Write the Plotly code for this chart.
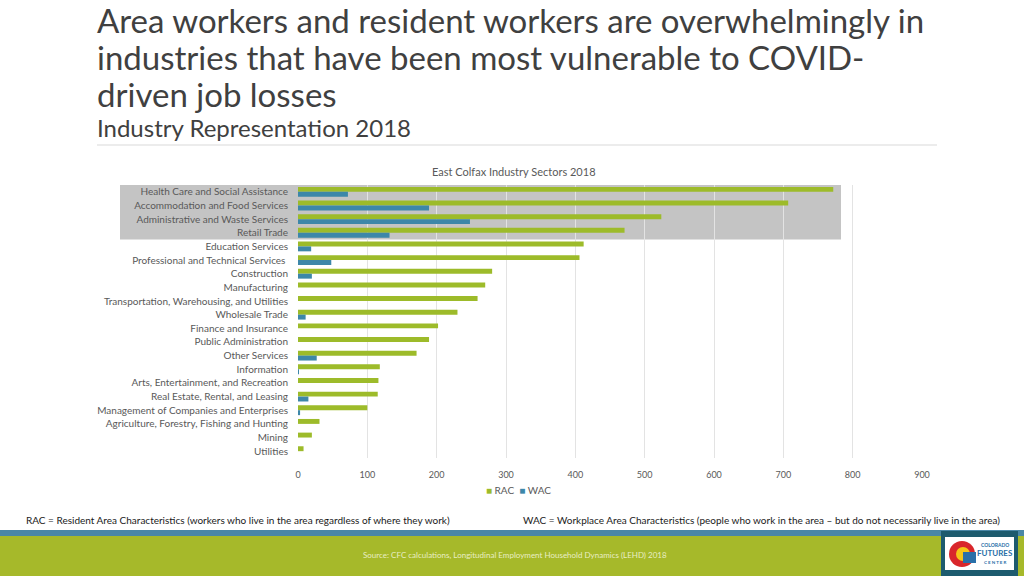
import plotly.graph_objects as go

categories = [
    "Health Care and Social Assistance",
    "Accommodation and Food Services",
    "Administrative and Waste Services",
    "Retail Trade",
    "Education Services",
    "Professional and Technical Services ",
    "Construction",
    "Manufacturing",
    "Transportation, Warehousing, and Utilities",
    "Wholesale Trade",
    "Finance and Insurance",
    "Public Administration",
    "Other Services",
    "Information",
    "Arts, Entertainment, and Recreation",
    "Real Estate, Rental, and Leasing",
    "Management of Companies and Enterprises",
    "Agriculture, Forestry, Fishing and Hunting",
    "Mining",
    "Utilities",
]
rac = [772, 707, 524, 471, 412, 406, 280, 270, 259, 230, 202, 189, 171, 118, 116, 115, 100, 31, 20, 8]
wac = [72, 189, 248, 132, 19, 48, 20, 0, 0, 11, 0, 0, 27, 1, 0, 15, 3, 0, 0, 0]
x_ticks = [0, 100, 200, 300, 400, 500, 600, 700, 800, 900]
series_names = ["RAC", "WAC"]

GREEN = "#9dbb2a"
BLUE = "#3d87a9"
GREY = "#595959"
FONT = "Lato"

fig = go.Figure()
fig.add_trace(go.Bar(y=categories, x=rac, name=series_names[0], orientation="h",
                     marker=dict(color=GREEN, line=dict(width=0))))
fig.add_trace(go.Bar(y=categories, x=wac, name=series_names[1], orientation="h",
                     marker=dict(color=BLUE, line=dict(width=0))))

L, R, T, B = 298, 922, 185, 458
W, H = 1024, 576

fig.update_layout(
    width=W, height=H,
    margin=dict(l=L, r=W - R, t=T, b=H - B, pad=0),
    paper_bgcolor="white", plot_bgcolor="rgba(0,0,0,0)",
    barmode="group", bargap=0.28, bargroupgap=0,
    font=dict(family=FONT, color=GREY, size=10),
    showlegend=False,
    xaxis=dict(range=[0, 900], tickvals=x_ticks, showgrid=True, gridcolor="#e3e3e3",
               gridwidth=1, zeroline=False, showline=False, ticks="",
               tickfont=dict(size=9, color=GREY), ticklabelstandoff=10),
    yaxis=dict(autorange="reversed", showgrid=False, zeroline=False, showline=False,
               ticks="", tickfont=dict(size=10, color=GREY), ticklabelstandoff=9),
)

def px2paper_x(px):
    return (px - L) / (R - L)

def px2paper_y(py):
    return (B - py) / (B - T)

shapes = []
# highlight box
shapes.append(dict(type="rect", xref="paper", yref="y", x0=px2paper_x(120), x1=px2paper_x(841),
                   y0=-0.5, y1=3.5, fillcolor="#c4c4c4", line=dict(width=0), layer="below"))
# separator under subtitle
shapes.append(dict(type="line", xref="paper", yref="paper", x0=px2paper_x(97), x1=px2paper_x(937),
                   y0=px2paper_y(145), y1=px2paper_y(145), line=dict(color="#d9d9d9", width=1)))
# footer stripes
shapes.append(dict(type="rect", xref="paper", yref="paper", x0=px2paper_x(0), x1=px2paper_x(W),
                   y0=px2paper_y(536), y1=px2paper_y(530), fillcolor="#4a87a6", line=dict(width=0)))
shapes.append(dict(type="rect", xref="paper", yref="paper", x0=px2paper_x(0), x1=px2paper_x(W),
                   y0=px2paper_y(H), y1=px2paper_y(536), fillcolor="#a6b92a", line=dict(width=0)))
# logo
shapes.append(dict(type="rect", xref="paper", yref="paper", x0=px2paper_x(941), x1=px2paper_x(1018),
                   y0=px2paper_y(576), y1=px2paper_y(531), fillcolor="#1d5b6e", line=dict(width=0)))
shapes.append(dict(type="rect", xref="paper", yref="paper", x0=px2paper_x(945), x1=px2paper_x(1014),
                   y0=px2paper_y(570), y1=px2paper_y(537), fillcolor="white", line=dict(width=0)))
shapes.append(dict(type="circle", xref="paper", yref="paper", x0=px2paper_x(949), x1=px2paper_x(975),
                   y0=px2paper_y(567), y1=px2paper_y(541), fillcolor="#d9262b", line=dict(width=0)))
shapes.append(dict(type="circle", xref="paper", yref="paper", x0=px2paper_x(956), x1=px2paper_x(970),
                   y0=px2paper_y(561), y1=px2paper_y(547), fillcolor="#f5c518", line=dict(width=0)))
shapes.append(dict(type="rect", xref="paper", yref="paper", x0=px2paper_x(963), x1=px2paper_x(976),
                   y0=px2paper_y(563), y1=px2paper_y(552), fillcolor="#2a6fa8", line=dict(width=0)))
fig.update_layout(shapes=shapes)

ann = []
def text(x, y, s, size, color, anchor="left", family=FONT, yanchor="middle"):
    ann.append(dict(xref="paper", yref="paper", x=px2paper_x(x), y=px2paper_y(y), text=s,
                    showarrow=False, xanchor=anchor, yanchor=yanchor,
                    font=dict(size=size, color=color, family=family)))

TITLE_C = "#404040"
text(95, 20, "Area workers and resident workers are overwhelmingly in", 33, TITLE_C)
text(95, 57, "industries that have been most vulnerable to COVID-", 33, TITLE_C)
text(95, 94, "driven job losses", 33, TITLE_C)
text(95, 127, "Industry Representation 2018", 24, TITLE_C)
text(514, 171, "East Colfax Industry Sectors 2018", 11, GREY, anchor="center")
# compact legend
legend_text = (f"<span style='color:{GREEN}'>\u25A0</span> {series_names[0]}  "
               f"<span style='color:{BLUE}'>\u25A0</span> {series_names[1]}")
text(518, 490, legend_text, 10, GREY, anchor="center")
text(24, 520, "RAC = Resident Area Characteristics (workers who live in the area regardless of where they work)",
     10, "#1a1a1a")
text(1002, 520, "WAC = Workplace Area Characteristics (people who work in the area \u2013 but do not necessarily live in the area)",
     10, "#1a1a1a", anchor="right")
text(515, 555, "Source: CFC calculations, Longitudinal Employment Household Dynamics (LEHD) 2018",
     8, "#e8eec4", anchor="center")
text(995, 545, "<b>COLORADO</b>", 5, "#2a6fa8", anchor="center")
text(995, 553, "<b>FUTURES</b>", 8, "#2a6fa8", anchor="center")
text(995, 562, "<b>C E N T E R</b>", 4.5, "#2a6fa8", anchor="center")
fig.update_layout(annotations=ann)

fig.write_html("out.html", config={"displayModeBar": False},
               post_script="document.body.style.margin='0';document.body.style.overflow='hidden';")
